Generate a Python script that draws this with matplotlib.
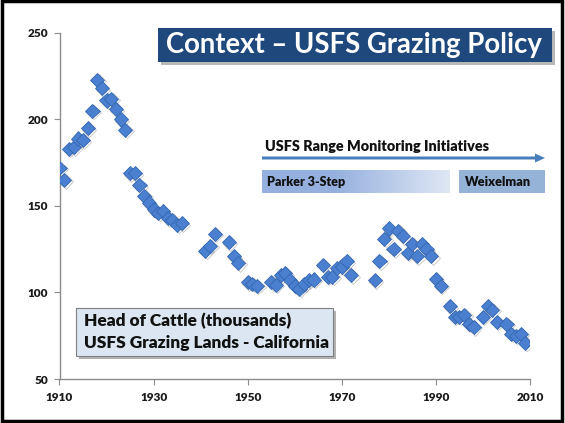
import matplotlib
matplotlib.use("Agg")
import matplotlib.pyplot as plt
import numpy as np
from matplotlib.patches import Rectangle, FancyArrow
from matplotlib.colors import LinearSegmentedColormap
import matplotlib.patheffects as pe

plt.rcParams['font.family'] = ['Lato', 'DejaVu Sans']

# ---- data ----
years = [1910, 1911, 1912, 1913, 1914, 1915, 1916, 1917, 1918, 1919,
         1920, 1921, 1922, 1923, 1924, 1925, 1926, 1927, 1928, 1929,
         1930, 1931, 1932, 1933, 1934, 1935, 1936,
         1941, 1942, 1943, 1946, 1947, 1948,
         1950, 1951, 1952, 1955, 1956, 1957, 1958, 1959, 1960, 1961,
         1962, 1963, 1964, 1966, 1967, 1968, 1969, 1970, 1971, 1972,
         1977, 1978, 1979, 1980, 1981, 1982, 1983, 1984, 1985, 1986,
         1987, 1988, 1989, 1990, 1991, 1993, 1994, 1995, 1996, 1997,
         1998, 2000, 2001, 2002, 2003, 2005, 2006, 2007, 2008, 2009]
cattle = [172, 165, 183, 184, 189, 188, 195, 205, 223, 218,
          211, 212, 206, 200, 194, 169, 169, 162, 156, 152,
          148, 146, 147, 143, 142, 139, 140,
          124, 127, 134, 129, 121, 117,
          106, 105, 104, 106, 104.5, 110, 111, 107, 104, 102,
          105, 107, 107.5, 116, 109, 109, 114, 115, 118, 110,
          107, 118, 131, 137, 125, 135.5, 132.5, 123, 128, 121,
          128, 125, 121, 108, 104, 92, 86, 86, 87, 82,
          80, 86, 92, 90, 83, 82, 76, 75, 76, 71]

y_ticks = [50, 100, 150, 200, 250]
x_ticks = [1910, 1930, 1950, 1970, 1990, 2010]

title = "Context \u2013 USFS Grazing Policy"
arrow_label = "USFS Range Monitoring Initiatives"
bar_labels = ["Parker 3-Step", "Weixelman"]
box_lines = ["Head of Cattle (thousands)", "USFS Grazing Lands - California"]

W, H = 565, 423
fig = plt.figure(figsize=(W / 100, H / 100), dpi=100)
fig.patch.set_facecolor('white')

def fx(x):
    return x / W

def fy(y):
    return 1 - y / H

ax = fig.add_axes([fx(59.5), fy(379), fx(530) - fx(59.5), fy(33) - fy(379)])
ax.set_xlim(1910, 2010)
ax.set_ylim(50, 250)
ax.set_xticks(x_ticks)
ax.set_yticks(y_ticks)
for s in ['top', 'right']:
    ax.spines[s].set_visible(False)
for s in ['left', 'bottom']:
    ax.spines[s].set_color('#8c8c8c')
    ax.spines[s].set_linewidth(1.0)
ax.tick_params(axis='both', direction='out', length=4, color='#8c8c8c',
               labelsize=8.5, pad=4)
for lab in ax.get_xticklabels() + ax.get_yticklabels():
    lab.set_fontweight('heavy')
    lab.set_color('#1a1a1a')
ax.tick_params(axis='x', pad=5)
ax.tick_params(axis='y', pad=4)

ax.plot(years, cattle, linestyle='none', marker='D', markersize=7.2,
        markerfacecolor='#4a80cf', markeredgecolor='#3566b0', markeredgewidth=0.6,
        path_effects=[pe.SimpleLineShadow(offset=(1, -1), shadow_color='#555555', alpha=0.35),
                      pe.Normal()], zorder=3)

# ---- title box ----
fig.add_artist(Rectangle((fx(161), fy(65)), fx(555) - fx(161), fy(31) - fy(65),
                         transform=fig.transFigure, facecolor='#8a8a8a', edgecolor='none',
                         alpha=0.6, zorder=4))
fig.add_artist(Rectangle((fx(158), fy(62)), fx(552) - fx(158), fy(28) - fy(62),
                         transform=fig.transFigure, facecolor='#1f497d', edgecolor='none',
                         zorder=5))
fig.text(fx(354), fy(45.5), title, color='white', fontsize=19.8, fontweight='bold',
         ha='center', va='center', zorder=6)

# ---- arrow ----
fig.text(fx(265), fy(146), arrow_label, color='#111111', fontsize=10.4, fontweight='heavy',
         ha='left', va='center', zorder=6)
fig.add_artist(FancyArrow(fx(262), fy(158), fx(545) - fx(262) - fx(10), 0,
                          width=3.0 / H, head_width=9.0 / H, head_length=fx(10),
                          length_includes_head=False, transform=fig.transFigure,
                          facecolor='#4a7ebb', edgecolor='none', zorder=5))

# ---- Parker bar (gradient) ----
pax = fig.add_axes([fx(262), fy(193), fx(450) - fx(262), fy(170) - fy(193)])
pax.set_axis_off()
grad_x = np.linspace(0, 1, 256)
g = np.clip((grad_x - 0.38) / 0.62, 0, 1)
cmap = LinearSegmentedColormap.from_list('pk', ['#95b0de', '#dfe7f4'])
pax.imshow(g[np.newaxis, :], aspect='auto', cmap=cmap, vmin=0, vmax=1,
           extent=[0, 1, 0, 1])
pax.set_xlim(0, 1)
pax.set_ylim(0, 1)
fig.text(fx(267), fy(182), bar_labels[0], color='#111111', fontsize=9, fontweight='heavy',
         ha='left', va='center', zorder=6)

# ---- Weixelman bar ----
fig.add_artist(Rectangle((fx(459), fy(193)), fx(545) - fx(459), fy(170) - fy(193),
                         transform=fig.transFigure, facecolor='#95b3d7', edgecolor='none',
                         zorder=5))
fig.text(fx(465), fy(182), bar_labels[1], color='#111111', fontsize=9.2, fontweight='heavy',
         ha='left', va='center', zorder=6)

# ---- legend-like box ----
fig.add_artist(Rectangle((fx(79), fy(359)), fx(336) - fx(79), fy(311) - fy(359),
                         transform=fig.transFigure, facecolor='#7f7f7f', edgecolor='none',
                         alpha=0.6, zorder=4))
fig.add_artist(Rectangle((fx(76), fy(356)), fx(333) - fx(76), fy(308) - fy(356),
                         transform=fig.transFigure, facecolor='#dce6f2', edgecolor='#7f7f7f',
                         linewidth=0.8, zorder=5))
fig.text(fx(84), fy(321), box_lines[0], color='#111111', fontsize=12.4, fontweight='heavy',
         ha='left', va='center', zorder=6)
fig.text(fx(84), fy(343), box_lines[1], color='#111111', fontsize=12.4, fontweight='heavy',
         ha='left', va='center', zorder=6)

# ---- figure border ----
fig.add_artist(Rectangle((fx(2), fy(421)), fx(562) - fx(2), fy(1.5) - fy(421),
                         transform=fig.transFigure, facecolor='none', edgecolor='black',
                         linewidth=2.5, zorder=10))

fig.savefig('out.png', dpi=100, facecolor='white')
